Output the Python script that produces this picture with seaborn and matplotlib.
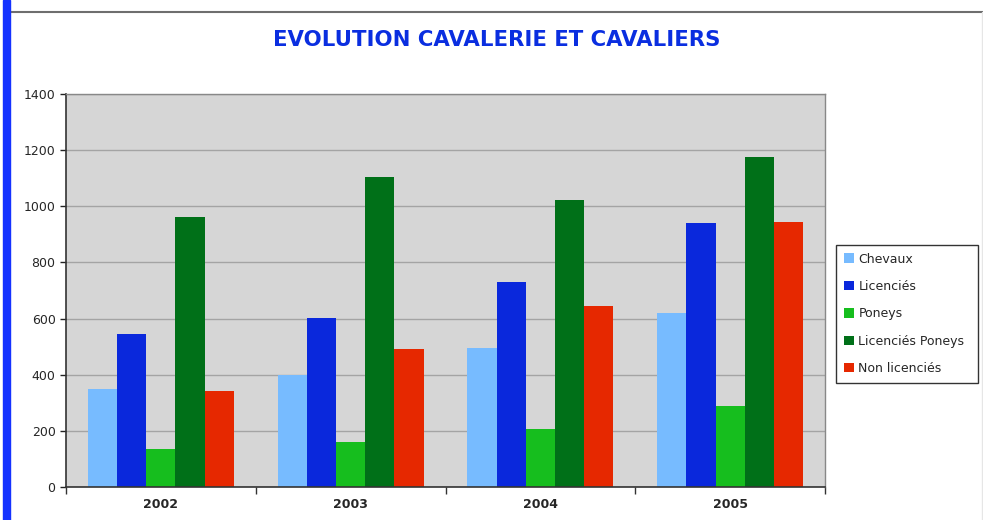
import pandas as pd
import matplotlib
matplotlib.use("Agg")
import matplotlib.pyplot as plt
import seaborn as sns
from matplotlib.patches import Rectangle
from matplotlib.lines import Line2D

years = ["2002", "2003", "2004", "2005"]
series = ["Chevaux", "Licenciés", "Poneys", "Licenciés Poneys", "Non licenciés"]
chevaux = [350, 400, 495, 620]
licencies = [545, 602, 730, 940]
poneys = [135, 160, 207, 289]
licencies_poneys = [962, 1104, 1022, 1176]
non_licencies = [342, 492, 645, 944]
colors = ["#77bbff", "#0a28dc", "#16be1e", "#007018", "#e62800"]

values = [chevaux, licencies, poneys, licencies_poneys, non_licencies]
rows = []
for name, vals in zip(series, values):
    for y, v in zip(years, vals):
        rows.append({"year": y, "serie": name, "value": v})
df = pd.DataFrame(rows)

sns.set_style("white")
plt.rcParams["font.family"] = ["DejaVu Sans"]

fig = plt.figure(figsize=(9.83, 5.2), dpi=100)
ax = fig.add_axes([66 / 983, 33 / 520, 759 / 983, 393 / 520])
ax.set_facecolor("#d6d6d6")

sns.barplot(data=df, x="year", y="value", hue="serie", hue_order=series,
            palette=colors, width=0.77, saturation=1, linewidth=0, ax=ax, legend=True)

ax.set_ylim(0, 1400)
ax.set_xlim(-0.5, 3.5)
ax.set_yticks(range(0, 1401, 200))
ax.yaxis.grid(True, color="#a4a4a4", lw=1)
ax.set_axisbelow(True)
ax.set_xlabel("")
ax.set_ylabel("")
ax.tick_params(axis="y", labelsize=9, length=4, width=1, direction="out", left=True, color="#222222")
ax.set_xticks(range(4))
ax.set_xticklabels(years, fontsize=9, fontweight="bold")
ax.tick_params(axis="x", length=0, pad=8)
ax.set_xticks([-0.5, 0.5, 1.5, 2.5, 3.5], minor=True)
ax.tick_params(axis="x", which="minor", length=5, width=1, direction="out", bottom=True, color="#333333")
for side in ["left", "bottom"]:
    ax.spines[side].set_color("#333333")
    ax.spines[side].set_linewidth(1.2)
for side in ["top", "right"]:
    ax.spines[side].set_color("#888888")
    ax.spines[side].set_linewidth(1)

handles, labels = ax.get_legend_handles_labels()
ax.get_legend().remove()
leg = fig.legend(handles, labels, loc="upper left",
                 bbox_to_anchor=(836 / 983, 1 - 382 / 520, 142 / 983, 137 / 520),
                 mode="expand", fontsize=9, frameon=True, fancybox=False,
                 handlelength=0.8, handleheight=0.8, handletextpad=0.4,
                 labelspacing=1.15, borderaxespad=0, borderpad=0.6)
leg.get_frame().set_edgecolor("black")
leg.get_frame().set_linewidth(1)

fig.text(497 / 983, 1 - 40 / 520, "EVOLUTION CAVALERIE ET CAVALIERS",
         ha="center", va="center", fontsize=15.3, fontweight="bold", color="#0a2ee0")

fig.patches.append(Rectangle((3 / 983, 0), 7 / 983, 1, transform=fig.transFigure,
                             color="#1432ff", zorder=5))
fig.lines.append(Line2D([11 / 983, 1], [1 - 12 / 520, 1 - 12 / 520],
                        transform=fig.transFigure, color="#6e6e6e", lw=1.5))
fig.lines.append(Line2D([981.5 / 983, 981.5 / 983], [0, 1 - 12 / 520],
                        transform=fig.transFigure, color="#e6e6e6", lw=1))

fig.savefig("out.png", dpi=100)
